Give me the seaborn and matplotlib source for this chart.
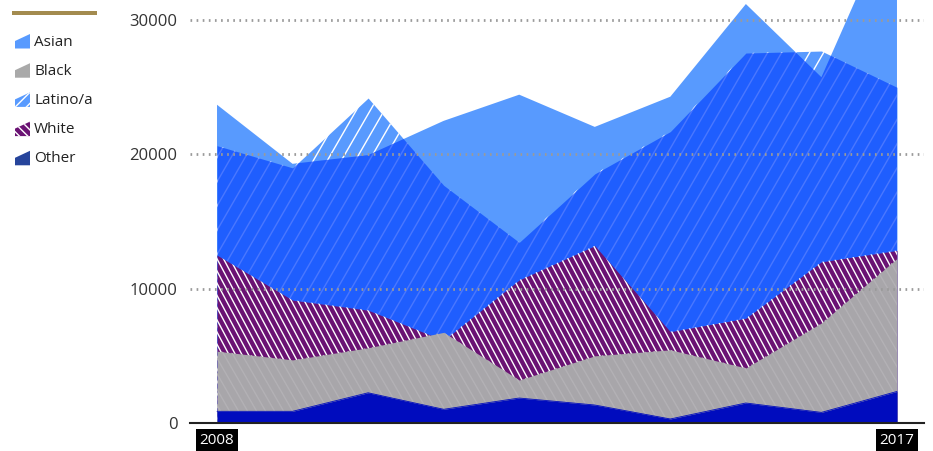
import numpy as np
import pandas as pd
import seaborn as sns
from matplotlib import pyplot as plt
from matplotlib.collections import LineCollection
from matplotlib.patches import Polygon, Rectangle
from matplotlib.transforms import IdentityTransform

# values
years = list(range(2008, 2018))
asian = [23700, 19300, 19950, 22500, 24450, 22050, 24300, 31200, 25750, 38500]
latino = [20650, 19000, 24200, 17700, 13450, 18550, 21700, 27550, 27700, 25000]
white = [12500, 9150, 8400, 6150, 10650, 13200, 6800, 7800, 12000, 12850]
black = [5350, 4700, 5600, 6750, 3200, 5000, 5450, 4100, 7450, 12250]
other = [870, 870, 2250, 1020, 1860, 1340, 300, 1490, 790, 2350]

legend_labels = ["Asian", "Black", "Latino/a", "White", "Other"]
y_ticks = [0, 10000, 20000, 30000]
x_ticks = [2008, 2017]

df = pd.DataFrame({"year": years, "Asian": asian, "Latino/a": latino,
                   "White": white, "Black": black, "Other": other})

W, H = 933, 451
LIGHT_BLUE = "#589afe"
DARK_OVER = "#0d4aff"
PURPLE = "#6a1273"
GREY = "#a8a6aa"
NAVY = "#000cbe"

sns.set_style("white")
plt.rcParams["font.family"] = ["Open Sans", "DejaVu Sans"]

fig = plt.figure(figsize=(W / 100, H / 100), dpi=100)
ax = fig.add_axes([190 / W, (H - 423) / H, 734 / W, 423 / H])


def hatch_lines(clip, step, slope, color, lw, z):
    """Diagonal lines in pixel space, clipped to an area polygon."""
    span = abs(slope) * H
    xs = np.arange(-span - step, W + span + step, step)
    segs = [[(x, 0), (x + slope * H, H)] for x in xs]
    lc = LineCollection(segs, colors=color, linewidths=lw,
                        transform=IdentityTransform(), zorder=z)
    ax.add_collection(lc, autolim=False)
    lc.set_clip_path(clip.get_paths()[0], ax.transData)
    return lc


a_fill = ax.fill_between(df["year"], 0, df["Asian"], color=LIGHT_BLUE, lw=0, zorder=1)
l_fill = ax.fill_between(df["year"], 0, df["Latino/a"], color=LIGHT_BLUE, lw=0, zorder=2)
hatch_lines(l_fill, 14, np.tan(np.radians(30)), "white", 1.0, 3)
# overlap of Asian and Latino/a reads darker
over = ax.fill_between(df["year"], 0, df["Latino/a"], color=DARK_OVER, alpha=0.75, lw=0, zorder=4)
over.set_clip_path(a_fill.get_paths()[0], ax.transData)

w_fill = ax.fill_between(df["year"], 0, df["White"], color=PURPLE, lw=0, zorder=5)
hatch_lines(w_fill, 6.5, -np.tan(np.radians(28)), "white", 1.0, 6)

b_fill = ax.fill_between(df["year"], 0, df["Black"], color=GREY, lw=0, zorder=7)
hatch_lines(b_fill, 9, -np.tan(np.radians(30)), "#b3b1b5", 1.0, 8)

ax.fill_between(df["year"], 0, df["Other"], color=NAVY, lw=0, zorder=9)
sns.lineplot(data=df, x="year", y="Other", color=NAVY, lw=0.6, ax=ax, zorder=9.5)

for v in y_ticks[1:]:
    ax.axhline(v, color="#9a9a9a", lw=2, ls=(0, (0.6, 1.6)), zorder=10)

ax.set_xlim(2008 - 27 / 75.5, 2017 + 27 / 75.5)
ax.set_ylim(0, 31500)
ax.set_xlabel("")
ax.set_ylabel("")
ax.set_yticks(y_ticks)
ax.set_yticklabels([str(t) for t in y_ticks], fontsize=12, color="#333333")
ax.set_xticks(x_ticks)
ax.set_xticklabels([str(t) for t in x_ticks], fontsize=11, color="white")
for lbl in ax.get_xticklabels():
    lbl.set_bbox(dict(facecolor="black", edgecolor="none", pad=2.5))
ax.tick_params(axis="y", length=0, pad=9)
ax.tick_params(axis="x", length=0, pad=7)
for side in ["top", "left", "right"]:
    ax.spines[side].set_visible(False)
ax.spines["bottom"].set_color("#222222")
ax.spines["bottom"].set_linewidth(1.5)
ax.spines["bottom"].set_zorder(12)

# legend on the left, drawn in pixel positions
tf = fig.transFigure
fig.patches.append(Rectangle((12 / W, 1 - 15 / H), 85 / W, 4 / H,
                             facecolor="#a38b4f", edgecolor="none", transform=tf))
icon_styles = [
    dict(facecolor=LIGHT_BLUE),
    dict(facecolor="#a9a9a9"),
    dict(facecolor=LIGHT_BLUE, edgecolor="white", hatch="///"),
    dict(facecolor=PURPLE, edgecolor="white", hatch="\\\\\\\\"),
    dict(facecolor="#26449b"),
]
for i, (label, style) in enumerate(zip(legend_labels, icon_styles)):
    cy = 42 + i * 29.2
    pts = [(15, cy + 6.5), (15, cy - 1), (30, cy - 8), (30, cy + 6.5)]
    pts = [(x / W, 1 - y / H) for x, y in pts]
    style.setdefault("edgecolor", "none")
    fig.patches.append(Polygon(pts, closed=True, lw=0, transform=tf, **style))
    fig.text(34 / W, 1 - cy / H, label, fontsize=11, color="#222222",
             va="center", ha="left")

fig.savefig("out.png", dpi=100)
